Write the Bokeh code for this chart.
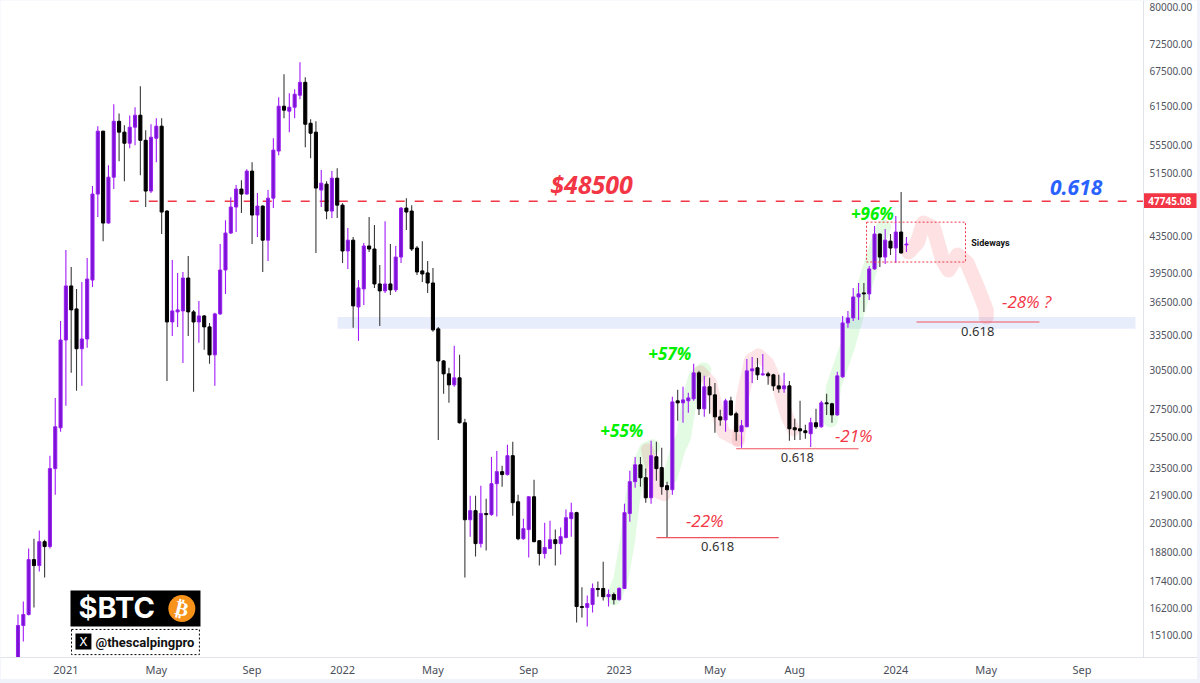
from bokeh.plotting import figure
from bokeh.layouts import column
from bokeh.models import FixedTicker, NumeralTickFormatter, ColumnDataSource
from bokeh.embed import file_html
from bokeh.resources import INLINE

# Weekly BTC candles
opens = [13940,15470,15930,18430,18140,19330,19080,23470,26160,33030,38130,35870,32270,33120,38730,48670,57520,45060,50900,59050,57370,55710,58130,60010,56140,49060,56450,58290,46520,34650,35590,35680,38940,35590,34650,35210,34200,31750,35400,39780,43880,47020,49320,48670,51730,46030,47140,43060,48140,54560,61460,60660,61300,63280,65490,58740,57370,49190,49970,46520,50770,47260,41840,43060,36060,37830,42400,42060,38330,37630,38330,37730,41170,46890,46520,42170,39680,39470,38430,34020,31240,30190,29320,29870,26510,20490,20990,19230,20830,20770,22550,23280,23100,24290,21490,19480,19960,21780,19380,18730,18980,19430,19230,19540,20550,20880,16270,16230,16360,17070,17070,16700,16800,16570,17070,20830,22670,23710,22910,21720,24220,23530,22430,22190,28100,27950,28100,28250,30270,27510,29170,28550,26930,26710,28100,27150,25890,26230,30430,30680,30110,30190,30110,29240,29010,29240,26160,26090,25950,25750,26510,26230,27950,27880,27070,29950,34560,35020,37030,37430,37330,39890,43760,41170,42950,42170,44000,42510]
highs = [15930,16490,18980,19480,19910,19430,24290,28320,34740,41950,40100,37830,38530,41060,49710,58290,57600,52550,61790,60270,58440,59950,61300,64810,57670,58590,59530,59530,46640,40840,39470,39570,41280,35780,36630,35300,34560,35500,42620,45410,48270,49840,50490,52000,52970,48800,47260,49190,56450,62940,66900,63620,64300,69060,66370,59360,59050,51870,50360,51730,52140,47510,44470,43410,38730,42730,45780,44830,40310,45290,42620,42400,47020,48140,47260,42400,42950,40730,40000,34200,31320,30680,32520,31750,26790,21840,21840,22430,21660,24210,24590,23650,25000,25200,21900,20550,21800,22780,19400,20330,20440,19960,20070,21050,21440,20930,17120,16750,17300,17390,18330,17020,16890,17120,21380,23340,24210,24210,23470,25270,25200,24800,22670,28400,28940,29170,28710,31000,30430,30030,29870,29470,27440,28250,28400,27290,26710,31400,31570,31490,31830,30350,30190,30110,30270,29630,26790,28100,26370,26860,27510,28100,28630,27950,30350,35210,35680,37930,38430,38430,40210,44710,43850,44350,43760,45900,48930,43410]
lows = [13750,14830,15890,16230,17860,17570,18980,21900,25890,27730,30270,28860,29240,32350,38030,45780,42950,45000,49320,53110,50360,54980,55420,51180,47020,48800,52970,43770,29630,33390,34200,31080,33390,28780,32780,32180,31000,29240,35300,37330,43770,44000,46280,48600,42620,43410,39570,40730,46890,53970,59510,57370,59510,62600,55130,53530,41620,47020,45530,45660,45660,40520,39890,34110,32950,36250,41730,37930,34290,37430,37230,37530,40520,44240,41840,39260,38530,37430,33750,25330,28630,27950,29170,26450,17570,19590,18580,19030,18880,20710,20660,22370,23050,20710,19400,19430,18530,19300,18140,18480,18960,18140,18680,19500,19590,15590,15800,15430,16010,16700,16530,16270,16360,16530,17050,20380,22310,22370,21440,21380,22720,21900,19540,21900,26650,26510,27220,28100,27070,26930,27150,25820,26300,25890,27000,25270,24800,26200,29470,29700,30030,29320,28860,28710,28710,25270,25330,25330,25400,24860,26090,26160,27070,26510,27000,29870,34110,34740,34830,35590,36730,39800,40100,40420,41390,40520,41550,41730]
closes = [15470,15930,18430,18140,19330,19080,23470,26230,33030,38130,35780,32270,33120,38830,48670,57520,45060,50900,59050,57370,55710,58130,60010,56140,49060,56600,58290,46400,34650,35680,35780,38940,35590,34650,35210,34200,31750,35400,39780,43880,47020,49320,48670,51730,46030,47140,43060,48140,54700,61460,60820,61300,63450,65490,58590,57210,49450,50100,46520,50770,47260,41840,43060,36160,37930,42400,42060,38330,37630,38330,37730,41170,46890,46400,42060,39570,39360,38430,33930,31240,30190,29320,29870,26510,20490,20990,19230,20830,20770,22550,23280,23100,24290,21440,19480,20010,21780,19330,18730,19030,19430,19230,19590,20600,20880,16270,16230,16400,17070,17020,16700,16800,16570,17070,20880,22670,23710,22910,21720,24290,23470,22370,22190,28020,27950,28170,28320,30270,27510,29170,28550,26930,26710,28100,27070,25890,26300,30430,30590,30110,30190,30030,29240,29010,29240,26090,26020,25950,25820,26510,26230,27950,27880,27070,30030,34560,35020,37030,37330,37330,39890,43760,41170,43060,42170,44000,41620,42620]

price_ticks = [80000,72500,67500,61500,55500,51500,43500,39500,36500,33500,30500,27500,25500,23500,21900,20300,18800,17400,16200,15100]
week_ticks = [9,26,44,61,78,96,113,131,146,165,182,200]
week_labels = ["2021","May","Sep","2022","May","Sep","2023","May","Aug","2024","May","Sep"]

level_price = 47745.08
band_prices = [34020, 35120]

# Freehand brush strokes drawn on the chart (week index, price)
green_a_x = [112,113.3,114.6,115.5,116.6,118.1,119.3]
green_a_y = [16660,17475,19430,21610,23400,24680,24870]
green_b_x = [122.6,124,125.1,126.2,127.4,128.9]
green_b_y = [22970,24680,25540,28170,29950,30510]
green_c_x = [152.7,153.3,155.9,159.3,161.7,162.7]
green_c_y = [26714,29170,32440,38430,42840,44590]
red_a_x = [118.3,119.4,120.4,121.5]
red_a_y = [24680,23220,22020,21900]
red_b_x = [128.3,130.2,131.5,132.6,135.2]
red_b_y = [30350,29470,27220,25820,25330]
red_c_x = [135.4,136.2,137.7,139.2,140.9,142.9,144.6,145.8]
red_c_y = [25270,28390,31320,31750,31080,29170,26930,26020]
red_d_x = [167.4,169.1,170.2,172.1,173.8,174.9,176.6,178.4,180.3,182,182]
red_d_y = [41730,42840,45060,44470,40840,39780,41390,40520,38030,35780,35120]

# Fib levels: x start, x end, price, label x, label price
fib_x0 = [120,135,168.9]
fib_x1 = [143,158,192]
fib_y = [19540,24740,34650]
fib_lx = [131.5,146.5,180.4]
fib_ly = [19080,24160,33750]

UP_BODY, UP_EDGE, UP_WICK = "#7a12d4", "#9a1ef0", "#a31cfb"
DN_BODY, DN_WICK = "#000000", "#3a3a3a"
RED, BLUE, GREEN = "#f23645", "#2962ff", "#00f000"

SCALE_X = 211.56  # week position of the price scale

p = figure(width=1197, height=679, output_backend="svg", toolbar_location=None,
           y_axis_type="log", y_axis_location="right",
           x_range=(-3.29, 221.71), y_range=(14210, 81390),
           min_border_left=0, min_border_top=0, min_border_right=0, min_border_bottom=21,
           background_fill_color="white", border_fill_color="white")
p.grid.visible = False
p.outline_line_color = None

ax = p.xaxis[0]
ax.ticker = FixedTicker(ticks=week_ticks)
ax.major_label_overrides = dict(zip(week_ticks, week_labels))
ax.major_tick_line_color = None
ax.minor_tick_line_color = None
ax.major_tick_out = 0
ax.major_tick_in = 0
ax.minor_tick_out = 0
ax.minor_tick_in = 0
ax.axis_line_color = "#e0e3eb"
ax.major_label_text_font = "Noto Sans"
ax.major_label_text_font_size = "11px"
ax.major_label_text_color = "#4a4e5a"
ax.major_label_standoff = 4

ay = p.yaxis[0]
ay.fixed_location = SCALE_X
ay.ticker = FixedTicker(ticks=price_ticks)
ay.formatter = NumeralTickFormatter(format="0.00")
ay.major_tick_line_color = None
ay.minor_tick_line_color = None
ay.major_tick_out = 0
ay.major_tick_in = 0
ay.minor_tick_out = 0
ay.minor_tick_in = 0
ay.axis_line_color = "#e0e3eb"
ay.major_label_text_font = "Noto Sans"
ay.major_label_text_font_size = "10px"
ay.major_label_text_color = "#50535e"
ay.major_label_standoff = 6

# Support band
p.quad(left=[60.06], right=[210.05], bottom=[band_prices[0]], top=[band_prices[1]],
       fill_color="#e8edfc", line_color=None)

# Brush strokes
for xs, ys in [(green_a_x, green_a_y), (green_b_x, green_b_y), (green_c_x, green_c_y)]:
    p.line(xs, ys, line_color="#22dd22", line_alpha=0.13, line_width=15,
           line_cap="round", line_join="round")
for xs, ys in [(red_a_x, red_a_y), (red_b_x, red_b_y), (red_c_x, red_c_y)]:
    p.line(xs, ys, line_color=RED, line_alpha=0.13, line_width=13,
           line_cap="round", line_join="round")
p.line(red_d_x, red_d_y, line_color=RED, line_alpha=0.15, line_width=15,
       line_cap="round", line_join="round")

# Resistance level
p.line([21, SCALE_X], [level_price, level_price], line_color=RED, line_width=1.6,
       line_dash=[9, 10])

# Candles
idx = list(range(len(opens)))
up = [c >= o for o, c in zip(opens, closes)]
src = ColumnDataSource(dict(
    x=idx, high=highs, low=lows,
    top=[max(o, c) for o, c in zip(opens, closes)],
    bottom=[min(o, c) for o, c in zip(opens, closes)],
    fill=[UP_BODY if u else DN_BODY for u in up],
    edge=[UP_EDGE if u else DN_BODY for u in up],
    wick=[UP_WICK if u else DN_WICK for u in up],
))
p.segment(x0="x", x1="x", y0="low", y1="high", line_color="wick", line_width=1.1, source=src)
p.vbar(x="x", width=0.58, top="top", bottom="bottom", fill_color="fill", line_color="edge",
       line_width=1, source=src)

# Fib lines and labels
p.segment(x0=fib_x0, x1=fib_x1, y0=fib_y, y1=fib_y, line_color="#f0525e", line_width=1.1)
p.text(fib_lx, fib_ly, text=["0.618"] * 3, text_font={"value": "Noto Sans"},
       text_font_size={"value": "13px"}, text_color="#333333", text_align="center",
       text_baseline="middle")

# Sideways box
side_box = p.quad(left=[159.5], right=[178.1], bottom=[40630], top=[45170], fill_color=None,
                  line_color=RED, line_width=1)
side_box.glyph.line_dash = [2, 2]
p.text([182.8], [42730], text=["Sideways"], text_font={"value": "Roboto"},
       text_font_style="bold", text_font_size={"value": "9px"}, text_color="#111111",
       text_align="center", text_baseline="middle")


def caption(x, y, txt, color, size, style):
    p.text([x], [y], text=[txt], text_font={"value": "Open Sans"}, text_font_style=style,
           text_font_size={"value": size}, text_color=color, text_align="center",
           text_baseline="middle")


caption(107.8, 50050, "$48500", RED, "25px", "bold italic")
caption(198.9, 49580, "0.618", BLUE, "21px", "bold italic")
caption(160.6, 46170, "+96%", GREEN, "17px", "bold italic")
caption(122.5, 31830, "+57%", GREEN, "17px", "bold italic")
caption(113.5, 25950, "+55%", GREEN, "17px", "bold italic")
caption(129.1, 20440, "-22%", RED, "17px", "italic")
caption(157.1, 25610, "-21%", RED, "17px", "italic")
caption(189.6, 36540, "-28% ?", RED, "17px", "italic")

# Current level tag on the price scale
p.quad(left=[SCALE_X], right=[221.53], bottom=[46890], top=[48760], fill_color=RED, line_color=None)
p.text([216.5], [level_price], text=["47745.08"], text_font={"value": "Noto Sans"},
       text_font_style="bold", text_font_size={"value": "10px"}, text_color="white",
       text_align="center", text_baseline="middle")

# Logo block
p.quad(left=[9.87], right=[34.3], bottom=[15430], top=[16980], fill_color="black", line_color=None)
p.text([11.37], [16230], text=["$BTC"], text_font={"value": "Inter"}, text_font_style="bold",
       text_font_size={"value": "29px"}, text_color="white", text_baseline="middle")
p.scatter([30.8], [16185], size=27, fill_color="#f7931a", line_color=None)
p.text([30.8], [16185], text=["₿"], text_font={"value": "DejaVu Sans"}, text_font_style="bold",
       text_font_size={"value": "20px"}, text_color="white", text_align="center",
       text_baseline="middle", angle=[-0.24])
logo_box = p.quad(left=[10.06], right=[34.1], bottom=[14320], top=[15310], fill_color=None,
                  line_color="black", line_width=1)
logo_box.glyph.line_dash = [2, 2]
p.quad(left=[10.8], right=[13.8], bottom=[14520], top=[15150], fill_color="black", line_color=None)
p.text([12.3], [14825], text=["X"], text_font={"value": "DejaVu Sans"}, text_font_size={"value": "12px"},
       text_color="white", text_align="center", text_baseline="middle")
p.text([14.57], [14790], text=["@thescalpingpro"], text_font={"value": "Roboto"},
       text_font_style="bold", text_font_size={"value": "13px"}, text_color="#111111",
       text_baseline="middle")

page = column(p, width=1200, height=683, styles={"background-color": "#f0f3fa"})

open("out.html", "w").write(file_html(page, INLINE))
